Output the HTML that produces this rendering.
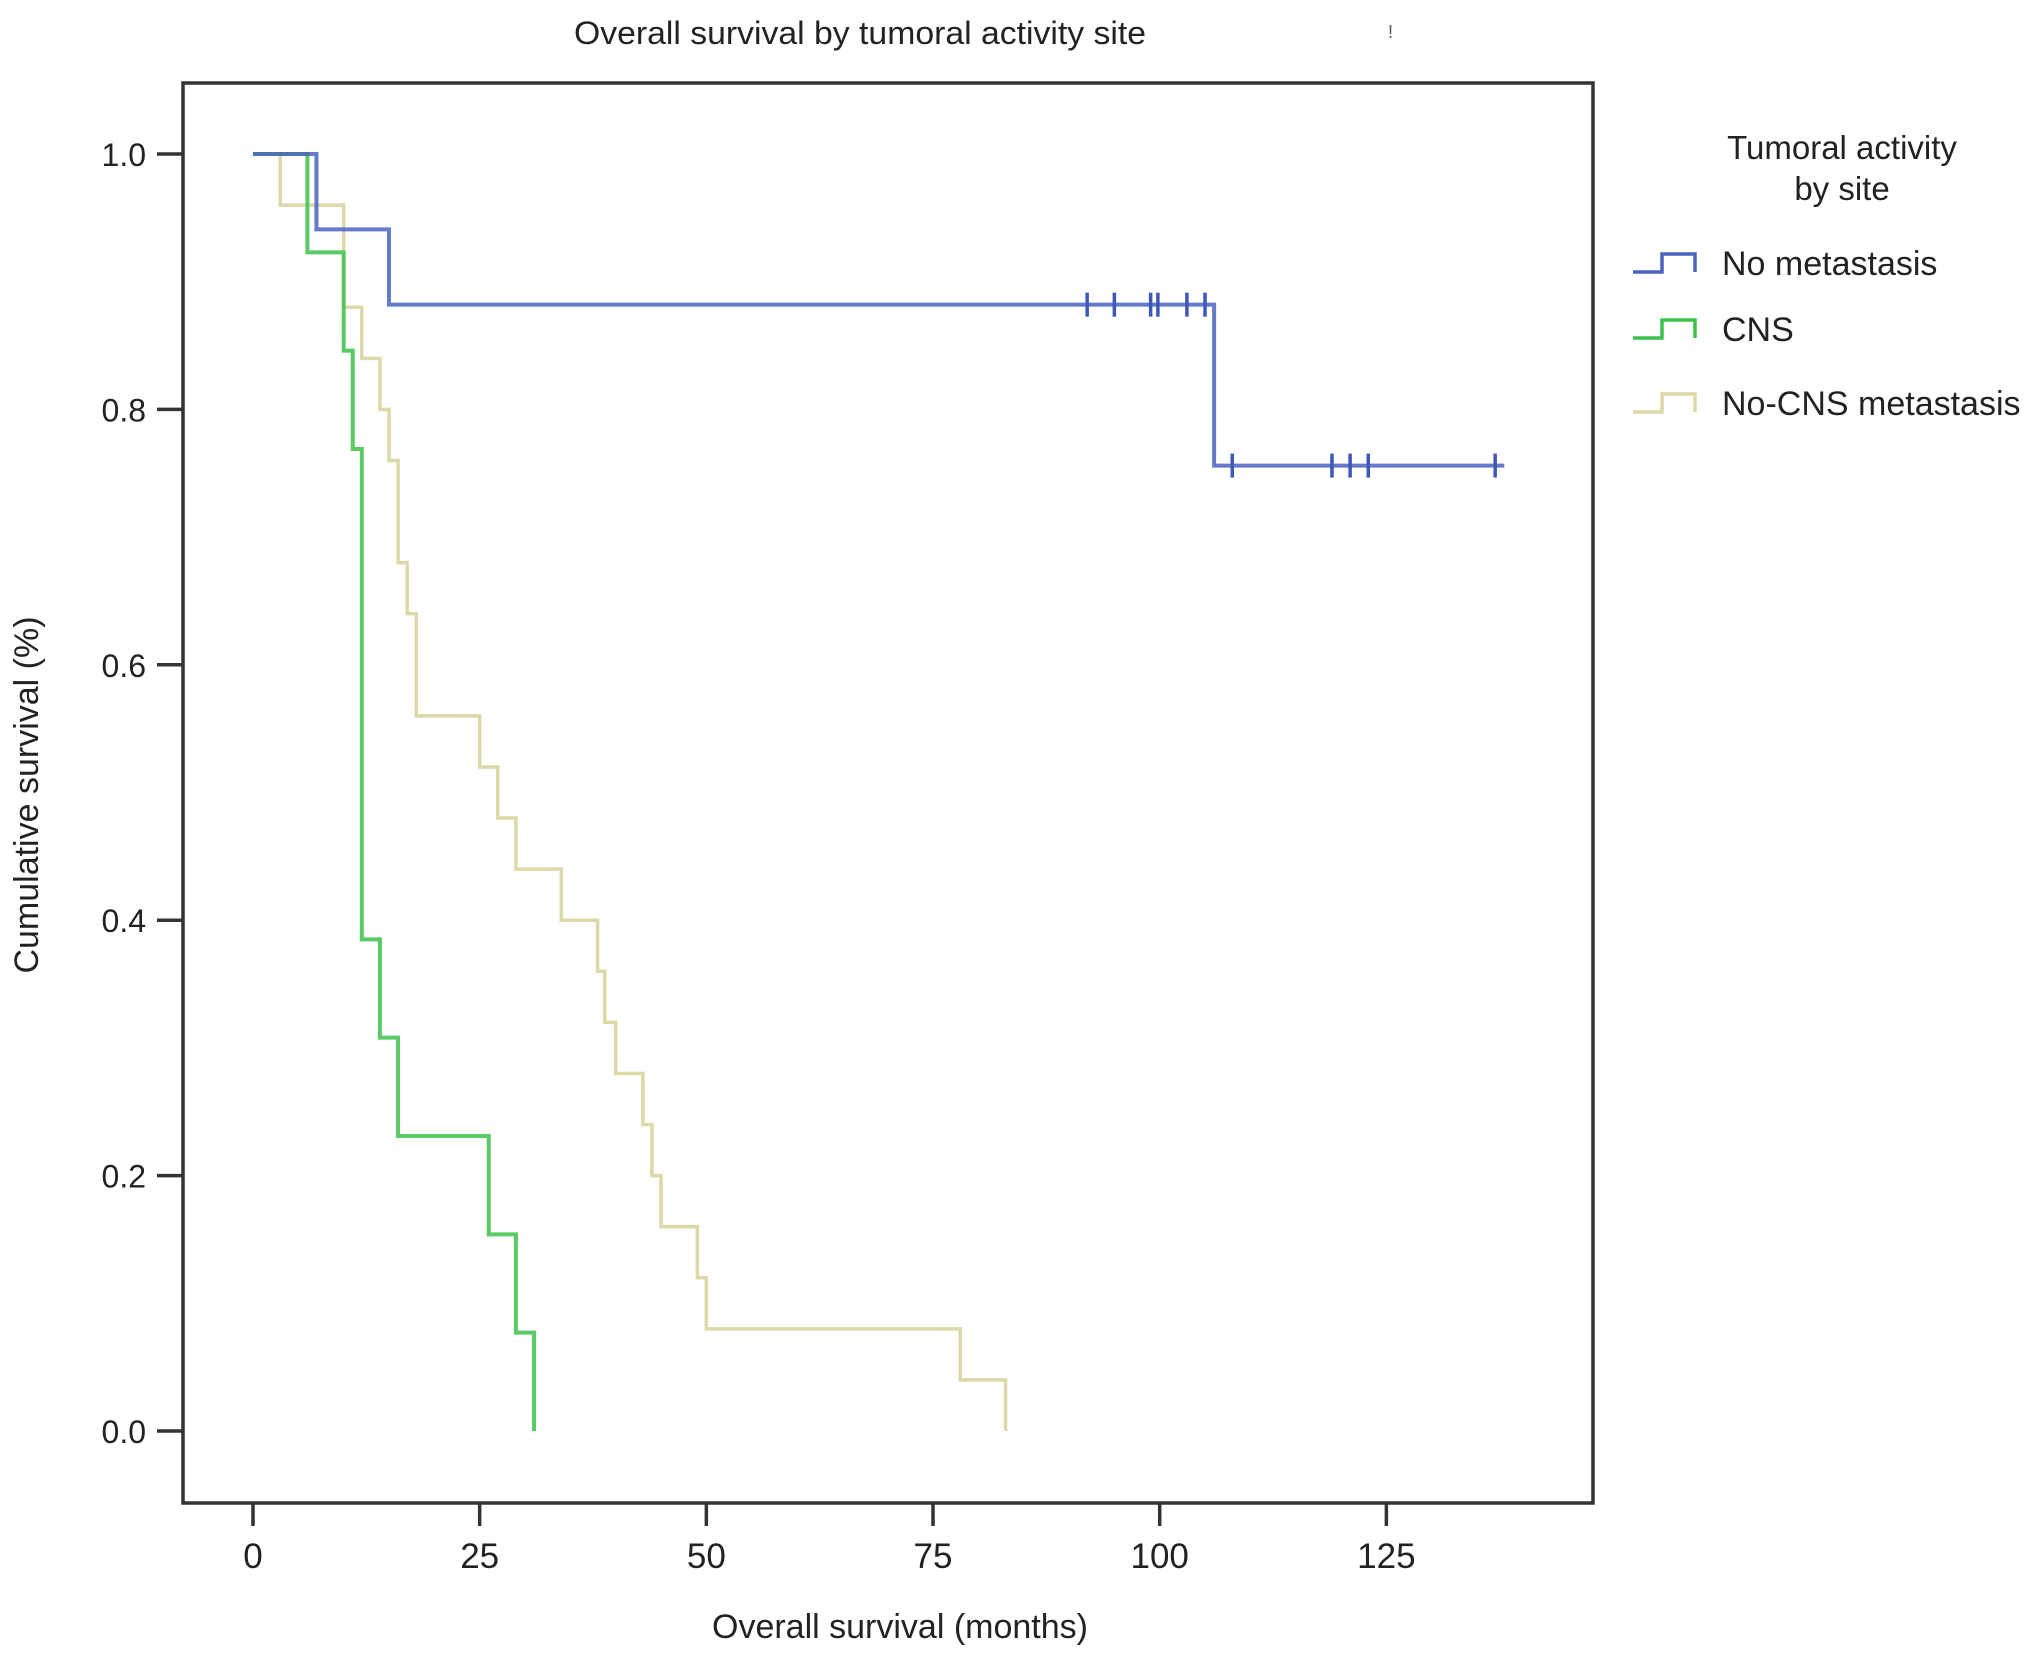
<!DOCTYPE html>
<html><head><meta charset="utf-8"><style>
html,body{margin:0;padding:0;background:#fff;}
svg{display:block;font-family:"Liberation Sans",sans-serif;}
</style></head><body>
<svg id="chart" width="2032" height="1657" viewBox="0 0 2032 1657" xmlns="http://www.w3.org/2000/svg">
<rect width="2032" height="1657" fill="#fff"/>
<text x="860" y="44" font-size="32" text-anchor="middle" fill="#222" textLength="572" lengthAdjust="spacingAndGlyphs">Overall survival by tumoral activity site</text>
<text x="1388" y="38" font-size="18" fill="#555">!</text>
<rect x="183" y="83" width="1410" height="1420" fill="none" stroke="#333" stroke-width="3.5"/>
<g id="yaxis"></g>
<g id="xaxis"></g>
<g id="series"></g>
<text transform="translate(38,795) rotate(-90)" font-size="34" text-anchor="middle" fill="#222">Cumulative survival (%)</text>
<text x="900" y="1638" font-size="34" text-anchor="middle" fill="#222">Overall survival (months)</text>
<g>
<text x="1842" y="159" font-size="33" text-anchor="middle" fill="#222">Tumoral activity</text>
<text x="1842" y="200" font-size="33" text-anchor="middle" fill="#222">by site</text>
<g>
<path d="M1633 272 H1662 V254 H1695 V272" fill="none" stroke="#4a63c0" stroke-width="3.5"/>
<text x="1722" y="275" font-size="34" fill="#222">No metastasis</text></g>
<g>
<path d="M1633 338 H1662 V320 H1695 V338" fill="none" stroke="#3cc24a" stroke-width="3.5"/>
<text x="1722" y="341" font-size="34" fill="#222">CNS</text></g>
<g>
<path d="M1633 412 H1662 V394 H1695 V412" fill="none" stroke="#dcd8a8" stroke-width="3.5"/>
<text x="1722" y="415" font-size="34" fill="#222">No-CNS metastasis</text></g>
</g>
</svg>
<script>
const yTicks = [0.0, 0.2, 0.4, 0.6, 0.8, 1.0];
const yTickLabels = ["0.0", "0.2", "0.4", "0.6", "0.8", "1.0"];
const xTicks = [0, 25, 50, 75, 100, 125];
const xTickLabels = ["0", "25", "50", "75", "100", "125"];

const noMetTimes = [0, 7, 15, 106];
const noMetSurv = [1.0, 0.941, 0.882, 0.756];
const noMetEnd = 138;
const noMetCensorTimes = [92, 95, 99, 99.8, 103, 105, 108, 119, 121, 123, 137];

const cnsTimes = [0, 6, 10, 11, 12, 14, 16, 26, 29, 31];
const cnsSurv = [1.0, 0.923, 0.846, 0.769, 0.385, 0.308, 0.231, 0.154, 0.077, 0.0];

const nonCnsTimes = [0, 3, 10, 12, 14, 15, 16, 17, 18, 25, 27, 29, 34, 38, 38.8, 40, 43, 44, 45, 49, 50, 78, 83];
const nonCnsSurv = [1.0, 0.96, 0.88, 0.84, 0.80, 0.76, 0.68, 0.64, 0.56, 0.52, 0.48, 0.44, 0.40, 0.36, 0.32, 0.28, 0.24, 0.20, 0.16, 0.12, 0.08, 0.04, 0.0];

const NS = "http://www.w3.org/2000/svg";
function xs(m){ return 253 + m * 9.067; }
function ys(s){ return 1431 - s * 1277; }
function mk(tag, attrs, parent){ const e = document.createElementNS(NS, tag); for (const k in attrs) e.setAttribute(k, attrs[k]); parent.appendChild(e); return e; }

const ya = document.getElementById('yaxis');
yTicks.forEach((v, i) => {
  const t = mk('line', {x1:157, x2:183, y1:ys(v), y2:ys(v), stroke:'#333', 'stroke-width':3.5}, ya);
  
  
  const l = mk('text', {x:146, y:ys(v)+12, 'font-size':32, 'text-anchor':'end', fill:'#222'}, ya);
  
  
  l.textContent = yTickLabels[i];
});
const xa = document.getElementById('xaxis');
xTicks.forEach((v, i) => {
  const t = mk('line', {x1:xs(v), x2:xs(v), y1:1503, y2:1526, stroke:'#333', 'stroke-width':3.5}, xa);
  
  
  const l = mk('text', {x:xs(v), y:1568, 'font-size':35, 'text-anchor':'middle', fill:'#222'}, xa);
  
  
  l.textContent = xTickLabels[i];
});

function stepPath(times, surv, end){
  let d = 'M' + xs(times[0]) + ' ' + ys(surv[0]);
  for (let i = 1; i < times.length; i++){
    d += ' H' + xs(times[i]) + ' V' + ys(surv[i]);
  }
  if (end !== undefined) d += ' H' + xs(end);
  return d;
}
function survAt(times, surv, t){ let s = surv[0]; for (let i = 0; i < times.length; i++) if (times[i] <= t) s = surv[i]; return s; }

const sg = document.getElementById('series');
const p3 = mk('path', {d:stepPath(nonCnsTimes, nonCnsSurv), fill:'none', stroke:'#dcd8a8', 'stroke-width':3.5}, sg);


const p2 = mk('path', {d:stepPath(cnsTimes, cnsSurv), fill:'none', stroke:'#3cc24a', 'stroke-width':4, opacity:0.85}, sg);


const p1 = mk('path', {d:stepPath(noMetTimes, noMetSurv, noMetEnd), fill:'none', stroke:'#4a63c0', 'stroke-width':4, opacity:0.85}, sg);


noMetCensorTimes.forEach(t => {
  const s = survAt(noMetTimes, noMetSurv, t);
  const c = mk('line', {x1:xs(t), x2:xs(t), y1:ys(s)-12, y2:ys(s)+12, stroke:'#3f58b8', 'stroke-width':3.5}, sg);
  
  
});
</script>
</body></html>
